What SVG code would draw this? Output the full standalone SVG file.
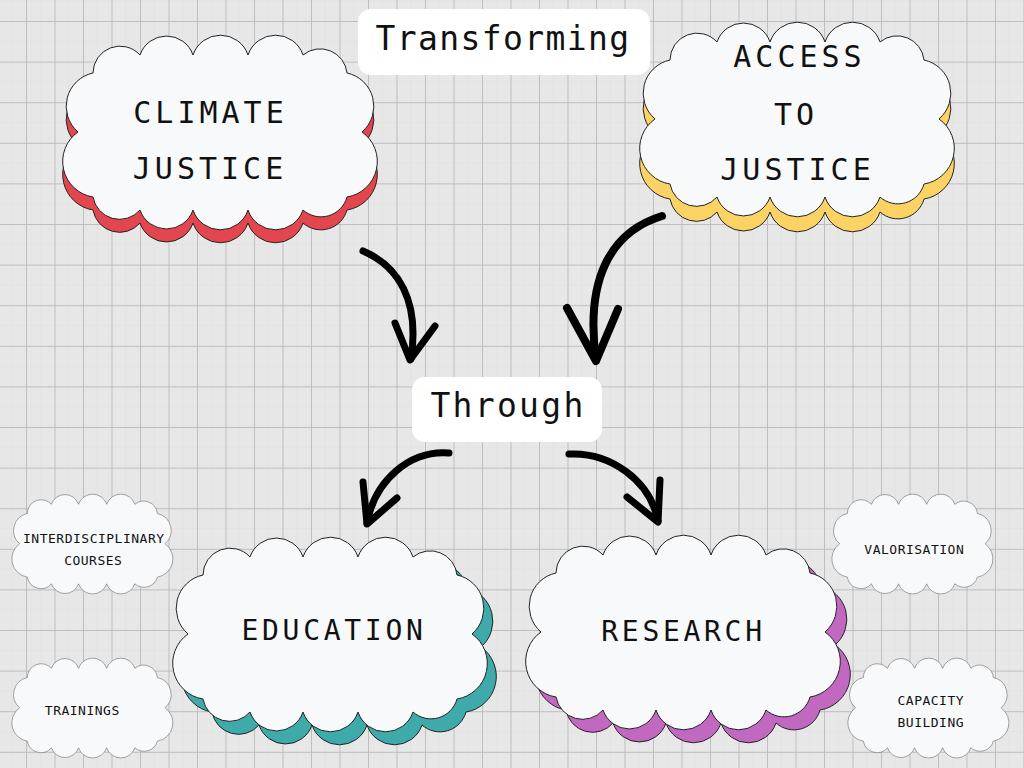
<svg xmlns="http://www.w3.org/2000/svg" xmlns:xlink="http://www.w3.org/1999/xlink" width="1024" height="768" viewBox="0 0 1024 768">
<style>
.bg{fill:#e7e7e7}
.cl{stroke:#222;stroke-width:1;stroke-linejoin:round}
.white{fill:#f8f9fb}
.red{fill:#e4464f}
.yellow{fill:#fbd264}
.teal{fill:#3faaaa}
.purple{fill:#c169c1}
.small{fill:#f8f9fb;stroke:#555;stroke-width:1}
.box{fill:#ffffff}
.big{font-family:"DejaVu Sans Mono","Liberation Mono",monospace;font-size:30px;letter-spacing:4px;fill:#111;text-anchor:middle}
.mid{font-family:"DejaVu Sans Mono","Liberation Mono",monospace;font-size:28px;letter-spacing:3.7px;fill:#111;text-anchor:middle}
.title{font-family:"DejaVu Sans Mono","Liberation Mono",monospace;font-size:33px;fill:#111;text-anchor:middle}
.sm{font-family:"DejaVu Sans Mono","Liberation Mono",monospace;font-size:13px;letter-spacing:0.5px;fill:#111;text-anchor:middle}
.arrow{fill:none;stroke:#000;stroke-width:7;stroke-linecap:round;stroke-linejoin:round}
</style>
<defs>
<pattern id="grid" patternUnits="userSpaceOnUse" x="26" y="21" width="28.5" height="40.6">
<rect width="28.5" height="40.6" fill="#e7e7e7"/>
<line x1="14.25" y1="0" x2="14.25" y2="40.6" stroke="#e1e1e1" stroke-width="0.6"/>
<line x1="0" y1="20.3" x2="28.5" y2="20.3" stroke="#e1e1e1" stroke-width="0.6"/>
<line x1="0.5" y1="0" x2="0.5" y2="40.6" stroke="#bababa" stroke-width="0.9"/>
<line x1="0" y1="0.5" x2="28.5" y2="0.5" stroke="#bababa" stroke-width="0.9"/>
</pattern>
<path id="cloud" d="M28,40 A27,27 0 0 1 75,22 A28,28 0 0 1 128,22 A29,29 0 0 1 183,22 A29,29 0 0 1 238,22 A27,27 0 0 1 282,40 A34,34 0 0 1 297,99 A36,36 0 0 1 282,164 A27,27 0 0 1 238,177 A29,29 0 0 1 183,177 A29,29 0 0 1 128,177 A28,28 0 0 1 75,177 A27,27 0 0 1 28,164 A36,36 0 0 1 13,99 A34,34 0 0 1 28,40 Z"/>
</defs>
<rect class="bg" width="1024" height="768"/>
<rect width="1024" height="768" fill="url(#grid)"/>

<g id="climate-justice">
<use xlink:href="#cloud" class="cl red" transform="translate(65,46)"/>
<use xlink:href="#cloud" class="cl white" transform="translate(65,33)"/>
<text class="big" x="210.5" y="123">CLIMATE</text>
<text class="big" x="210" y="179">JUSTICE</text>
</g>

<g id="access-to-justice">
<use xlink:href="#cloud" class="cl yellow" transform="translate(642,35)"/>
<use xlink:href="#cloud" class="cl white" transform="translate(642,20)"/>
<text class="big" x="799.5" y="67">ACCESS</text>
<text class="big" x="796" y="125">TO</text>
<text class="big" x="797.5" y="180">JUSTICE</text>
</g>

<g id="transforming">
<rect class="box" x="358" y="9" width="292" height="66" rx="13"/>
<text class="title" x="503" y="50" style="letter-spacing:1.4px">Transforming</text>
</g>

<g id="through">
<rect class="box" x="412" y="377" width="190" height="65" rx="13"/>
<text class="title" x="508" y="417" style="letter-spacing:2.3px">Through</text>
</g>

<g id="education">
<use xlink:href="#cloud" class="cl teal" transform="translate(184,548)"/>
<use xlink:href="#cloud" class="cl white" transform="translate(175,535)"/>
<text class="mid" x="334" y="640">EDUCATION</text>
</g>

<g id="research">
<use xlink:href="#cloud" class="cl purple" transform="translate(538,546)"/>
<use xlink:href="#cloud" class="cl white" transform="translate(528,533)"/>
<text class="mid" x="683.5" y="641">RESEARCH</text>
</g>

<g id="interdisciplinary-courses">
<use xlink:href="#cloud" class="small" transform="translate(13,493) scale(0.512,0.513)"/>
<text class="sm" x="93.8" y="543">INTERDISCIPLINARY</text>
<text class="sm" x="93.3" y="565">COURSES</text>
</g>

<g id="trainings">
<use xlink:href="#cloud" class="small" transform="translate(13,657) scale(0.512,0.513)"/>
<text class="sm" x="82.3" y="715">TRAININGS</text>
</g>

<g id="valorisation">
<use xlink:href="#cloud" class="small" transform="translate(833,493) scale(0.512,0.513)"/>
<text class="sm" x="914.3" y="554">VALORISATION</text>
</g>

<g id="capacity-building">
<use xlink:href="#cloud" class="small" transform="translate(849,657) scale(0.512,0.513)"/>
<text class="sm" x="930.8" y="705">CAPACITY</text>
<text class="sm" x="930.8" y="727">BUILDING</text>
</g>

<g id="connectors">
<path class="arrow" d="M363,251 C398,266 420,300 411,359"/>
<path class="arrow" d="M395,323 L410,360 L435,326"/>
<path class="arrow" style="stroke-width:8" d="M662,216 C610,232 585,280 596,360"/>
<path class="arrow" style="stroke-width:8" d="M567,308 L596,361 L618,309"/>
<path class="arrow" d="M449,453 C410,450 375,480 367,523"/>
<path class="arrow" d="M363,482 L367,524 L397,498"/>
<path class="arrow" d="M569,454 C610,452 650,480 658,521"/>
<path class="arrow" d="M627,497 L658,522 L660,480"/>
</g>
</svg>
